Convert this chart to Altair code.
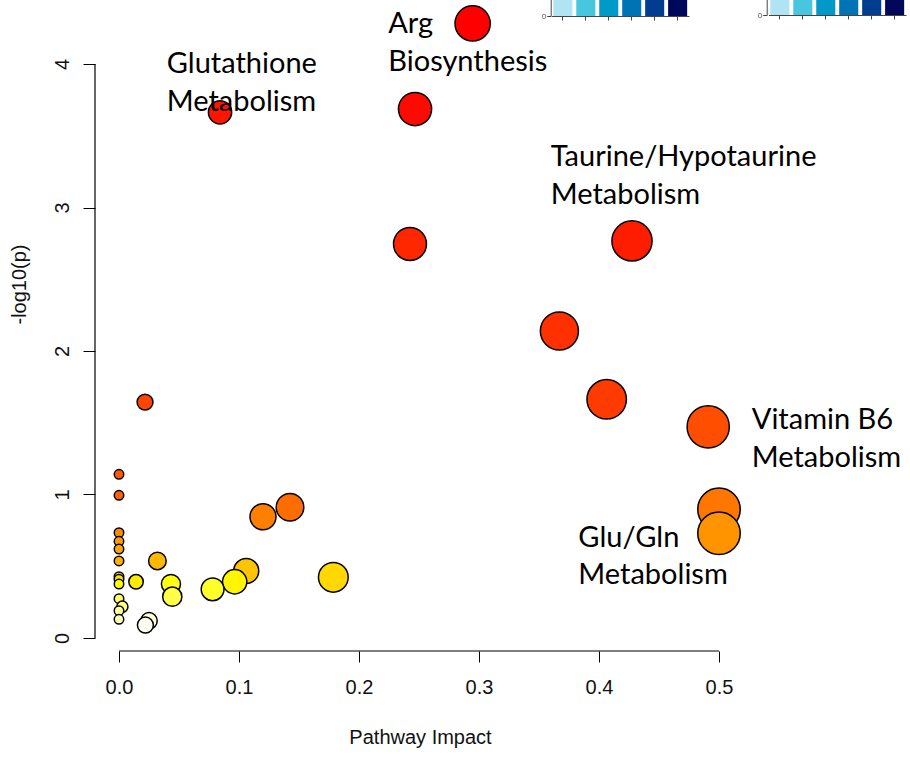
import altair as alt
import pandas as pd

# ---- data ----
impact = [0.2947, 0.2467, 0.0842, 0.4275, 0.2425, 0.367, 0.4064, 0.0217, 0.491,
          0.0, 0.0, 0.1425, 0.5, 0.12, 0.0, 0.5, 0.0, 0.0, 0.0, 0.032, 0.106,
          0.0, 0.1786, 0.0, 0.0142, 0.0964, 0.0, 0.0433, 0.078, 0.0444, 0.0,
          0.0028, 0.0, 0.0, 0.025, 0.022]
logp = [4.283, 3.686, 3.663, 2.767, 2.746, 2.139, 1.663, 1.644, 1.472,
        1.141, 0.994, 0.911, 0.897, 0.845, 0.734, 0.730, 0.674, 0.62, 0.537, 0.537, 0.467,
        0.427, 0.423, 0.409, 0.392, 0.392, 0.376, 0.376, 0.339, 0.288, 0.274,
        0.218, 0.19, 0.13, 0.12, 0.09]

label_text = ["Arg\nBiosynthesis", "Glutathione\nMetabolism",
              "Taurine/Hypotaurine\nMetabolism", "Vitamin B6\nMetabolism",
              "Glu/Gln\nMetabolism"]
label_x = [0.2244, 0.0398, 0.3598, 0.5273, 0.3828]
label_y = [4.214, 3.935, 3.289, 1.454, 0.636]

x_ticks = [0.0, 0.1, 0.2, 0.3, 0.4, 0.5]
y_ticks = [0, 1, 2, 3, 4]

# inset bar charts at the top (cropped in the reference: only their bases show)
inset_cats = ["g1", "g2", "g3", "g4", "g5", "g6"]
inset_vals = [1, 1, 1, 1, 1, 1]
inset_colors = ["#b0e4f3", "#48c6e0", "#0099c8", "#0073b5", "#003c8f", "#00085c"]

W, H = 648, 651

pts = pd.DataFrame({"impact": impact, "logp": logp})
labels = pd.DataFrame({"text": label_text, "x": label_x, "y": label_y})
inset = pd.DataFrame({"cat": inset_cats, "val": inset_vals})

xscale = alt.Scale(domain=[-0.02, 0.52], nice=False, zero=False)
yscale = alt.Scale(domain=[-0.0906, 4.446], nice=False, zero=False)

xaxis = alt.Axis(values=x_ticks, format=".1f", domain=False, grid=False,
                 tickSize=11, tickColor="black", tickWidth=1,
                 labelFont="Liberation Sans", labelFontSize=20, labelColor="#111",
                 labelPadding=15,
                 title="Pathway Impact", titleFont="Liberation Sans", titleFontSize=20,
                 titleFontWeight="normal", titleColor="#111",
                 titleBaseline="alphabetic", titleAlign="center",
                 titleX=325, titleY=92)
yaxis = alt.Axis(values=y_ticks, format="d", domain=False, grid=False,
                 tickSize=12, tickColor="black", tickWidth=1,
                 labelFont="Liberation Sans", labelFontSize=20, labelColor="#111",
                 labelAngle=270, labelAlign="center", labelBaseline="bottom",
                 labelPadding=11,
                 title="-log10(p)", titleFont="Liberation Sans", titleFontSize=20,
                 titleFontWeight="normal", titleColor="#111",
                 titleAngle=270, titleAlign="center", titleBaseline="alphabetic",
                 titleX=-70, titleY=284)

points = alt.Chart(pts).transform_window(
    rank="row_number()", sort=[alt.SortField("logp", order="descending")]
).mark_circle(stroke="black", strokeWidth=1.5, opacity=1, fillOpacity=1).encode(
    x=alt.X("impact:Q", scale=xscale, axis=xaxis),
    y=alt.Y("logp:Q", scale=yscale, axis=yaxis),
    color=alt.Color("rank:Q", legend=None,
                    scale=alt.Scale(domain=[1, 27, 28, 36],
                                    range=["#ff0000", "#ffff00", "#ffff0e", "#fffff1"],
                                    interpolate="rgb")),
    size=alt.Size("impact:Q", legend=None,
                  scale=alt.Scale(type="pow", exponent=0.75, domain=[0, 0.5],
                                  range=[90, 1806], zero=False)),
    order=alt.Order("rank:Q", sort="ascending"),
)

text = alt.Chart(labels).mark_text(
    font="Lato", fontSize=29, align="left", baseline="alphabetic",
    lineBreak="\n", lineHeight=37.5, color="black"
).encode(
    x=alt.X("x:Q", scale=xscale),
    y=alt.Y("y:Q", scale=yscale),
    text="text:N",
)

xline = alt.Chart(pd.DataFrame({"lo": [min(x_ticks)], "hi": [max(x_ticks)]})).mark_rule(
    color="black", strokeWidth=1.2
).encode(x=alt.X("lo:Q", scale=xscale), x2="hi:Q", y=alt.value(H))

yline = alt.Chart(pd.DataFrame({"lo": [min(y_ticks)], "hi": [max(y_ticks)]})).mark_rule(
    color="black", strokeWidth=1.2
).encode(y=alt.Y("lo:Q", scale=yscale), y2="hi:Q", x=alt.value(0))

main = alt.layer(xline, yline, points, text)


def inset_chart(x0, x1, base, axis_x):
    return alt.Chart(inset).mark_bar().encode(
        x=alt.X("cat:N", sort=None,
                scale=alt.Scale(range=[x0, x1], paddingInner=0.17, paddingOuter=0.08),
                axis=alt.Axis(orient="bottom", offset=base - H, labels=False, title=None,
                              tickSize=4, domainColor="#444", tickColor="#444",
                              domainWidth=1, grid=False)),
        y=alt.Y("val:Q", scale=alt.Scale(domain=[0, 1], range=[base, -80], nice=False),
                axis=alt.Axis(orient="left", offset=-axis_x, values=[0], tickSize=4,
                              labelFontSize=8, labelColor="#555", labelPadding=1,
                              domainColor="#444", tickColor="#444", title=None, grid=False)),
        color=alt.Color("cat:N", sort=None, legend=None,
                        scale=alt.Scale(domain=inset_cats, range=inset_colors)),
    )


inset1 = inset_chart(456.5, 594, 16, 455.7)
inset2 = inset_chart(673.5, 811, 15, 671.7)

chart = alt.layer(main, inset1, inset2).resolve_scale(
    x="independent", y="independent", color="independent"
).resolve_axis(x="independent", y="independent").properties(
    width=W, height=H,
    background="white",
    autosize=alt.AutoSizeParams(type="none"),
    padding={"left": 95, "top": 0, "right": 910 - 95 - W, "bottom": 757 - H},
).configure_view(strokeWidth=0, stroke=None)

chart.save("out.html", embed_options={"renderer": "svg", "actions": False})
